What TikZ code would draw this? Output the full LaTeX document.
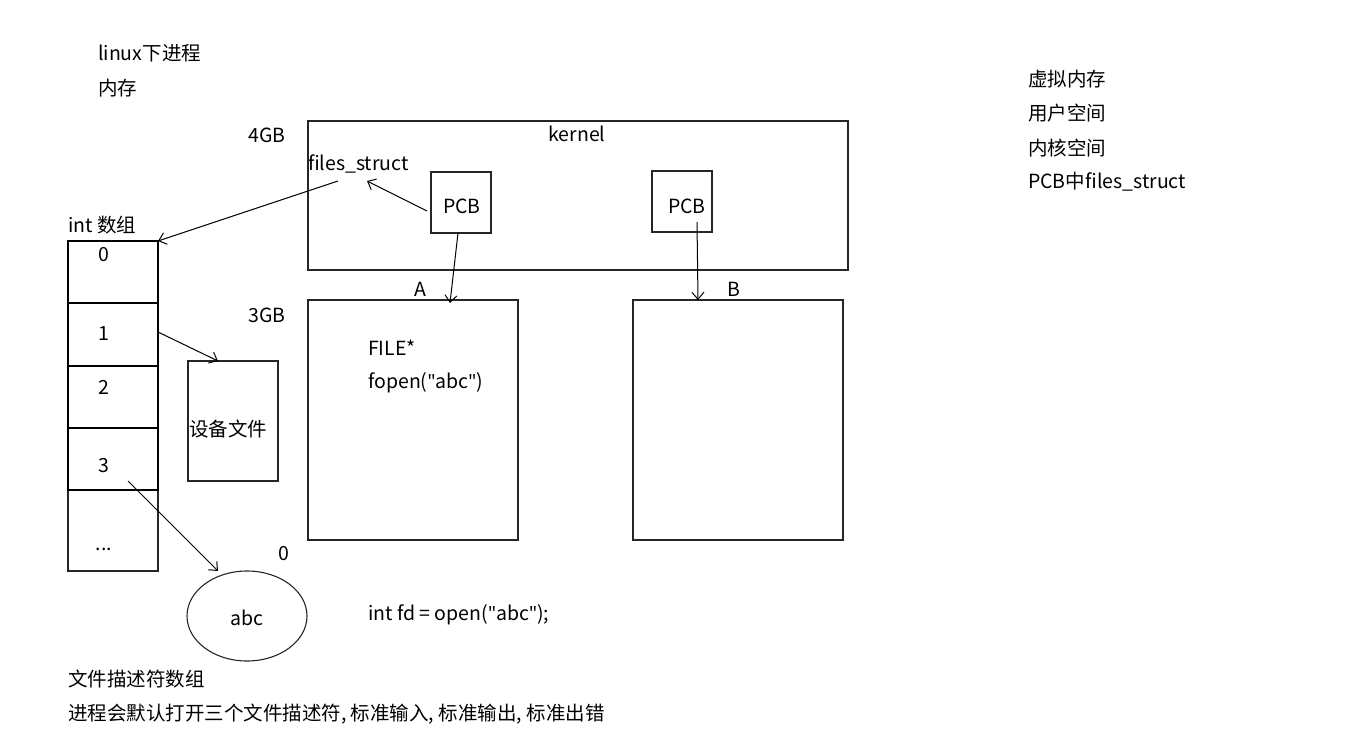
\documentclass[tikz,border=0pt]{standalone}
\usepackage{fontspec}
\setmainfont{Noto Sans CJK SC}
\newfontfamily\latf{Noto Sans}
\newcommand\dqt{{\latf"}}
\usetikzlibrary{arrows.meta}
\begin{document}
\begin{tikzpicture}[x=1pt,y=-1pt,
  every node/.style={font=\fontsize{19.5}{23}\selectfont, inner sep=0pt, text=black},
  txt/.style={anchor=west},
  box/.style={draw=black!85, line width=1.2pt},
  cellbox/.style={draw=black, line width=1.5pt},
  conn/.style={draw=black, line width=1pt, -{Straight Barb[length=7pt,width=12pt]}}]
\useasboundingbox (0,0) rectangle (1347,739);
% left texts
\node[txt] (t1) at (98,53) {linux下进程};
\node[txt] (t2) at (98,88) {内存};
% right texts
\node[txt] (r1) at (1028,79) {虚拟内存};
\node[txt] (r2) at (1028,113) {用户空间};
\node[txt] (r3) at (1028,148) {内核空间};
\node[txt] (r4) at (1028,182) {PCB中files\_struct};
% kernel
\node[txt] (g4) at (248,135) {4GB};
\draw[box] (308,121) rectangle (848,270);
\node (kernel) at (577,134) {kernel};
\node[txt] (fs) at (308,164) {files\_struct};
\draw[box] (431,172) rectangle (491,233);
\node (pcb1) at (462,206) {PCB};
\draw[box] (652,171) rectangle (712,232);
\node (pcb2) at (687,206) {PCB};
% user boxes
\node (lA) at (420,289) {A};
\node (lB) at (734,289) {B};
\draw[box] (308,300) rectangle (518,540);
\draw[box] (633,300) rectangle (843,540);
\node[txt] (g3) at (248,315) {3GB};
\node[txt] (file) at (368,348) {FILE*};
\node[txt] (fopen) at (368,383) {fopen(\dqt abc\dqt)};
% array
\node[txt] (arr) at (68,225) {int 数组};
\draw[box] (68,490) rectangle (158,571);
\draw[cellbox] (68,241) rectangle (158,303);
\draw[cellbox] (68,303) rectangle (158,366);
\draw[cellbox] (68,366) rectangle (158,428);
\draw[cellbox] (68,428) rectangle (158,490);
\node (c0) at (104,255) {0};
\node (c1) at (104,334) {1};
\node (c2) at (104,387) {2};
\node (c3) at (104,466) {3};
\node (cd) at (104,549) {...};
% device file
\draw[box] (188,361) rectangle (278,481);
\node (dev) at (228,429) {设备文件};
% abc ellipse
\draw[box, line width=1.1pt] (247,616) ellipse [x radius=60, y radius=45];
\node (abc) at (247,618) {abc};
\node (z) at (284,554) {0};
\node[txt] (fd) at (368,615) {int fd = open(\dqt abc\dqt);};
% bottom texts
\node[txt] (b1) at (68,679) {文件描述符数组};
\node[txt] (b2) at (68,714) {进程会默认打开三个文件描述符, 标准输入, 标准输出, 标准出错};
% connector coordinates
\coordinate (p1w) at (427,211);
\coordinate (fsin) at (367,181);
\coordinate (fsout) at (338,181);
\coordinate (arrtop) at (158,241);
\coordinate (p1s) at (458,233);
\coordinate (Atop) at (450,303);
\coordinate (p2s) at (697,222);
\coordinate (Btop) at (698,300);
\coordinate (c1r) at (158,332);
\coordinate (devtop) at (218,361);
\coordinate (c3o) at (128,481);
\coordinate (abctop) at (218,571);
\draw[conn] (p1w) -- (fsin);
\draw[conn] (fsout) -- (arrtop);
\draw[conn] (p1s) -- (Atop);
\draw[conn] (p2s) -- (Btop);
\draw[conn] (c1r) -- (devtop);
\draw[conn] (c3o) -- (abctop);
\end{tikzpicture}
\end{document}
